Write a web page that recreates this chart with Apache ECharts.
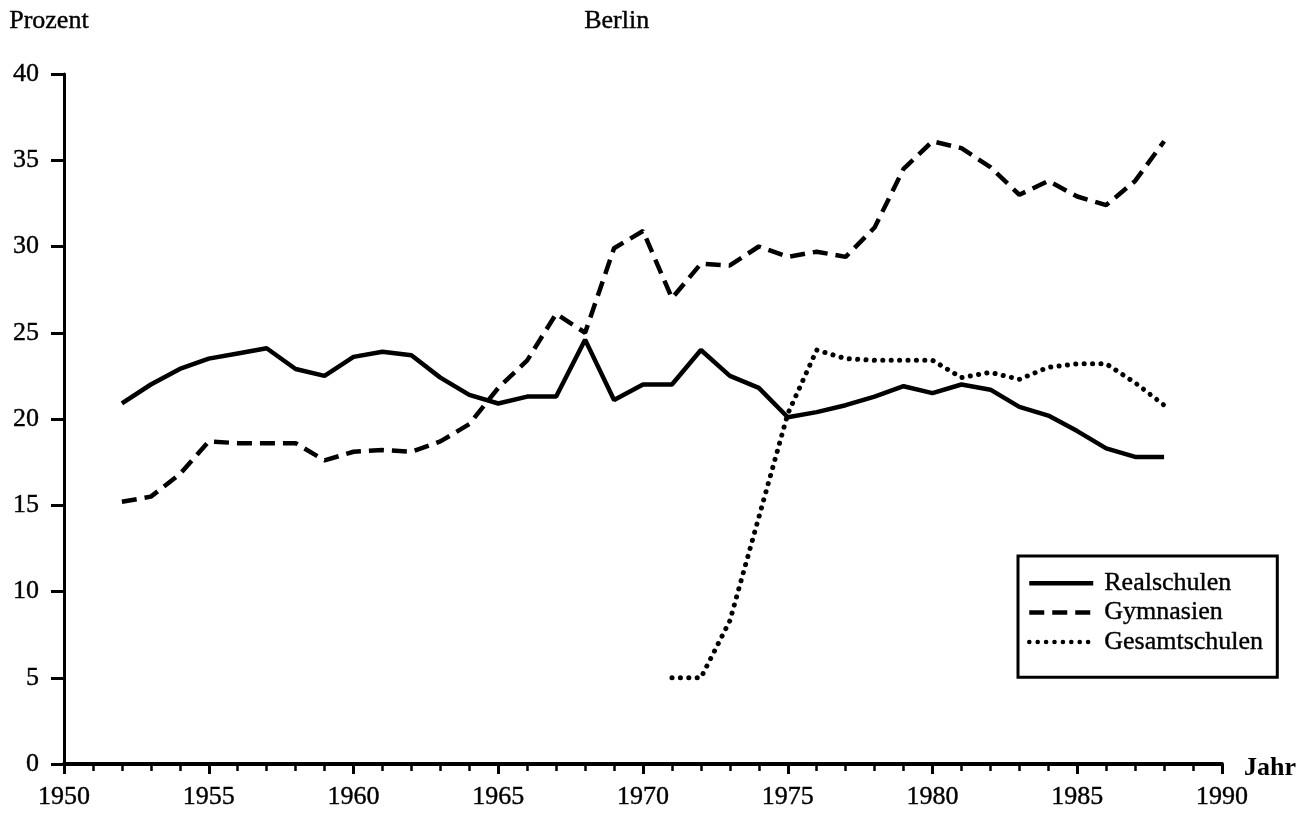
<!DOCTYPE html>
<html>
<head>
<meta charset="utf-8">
<script src="https://cdn.jsdelivr.net/npm/echarts@6/dist/echarts.min.js"></script>
<style>
  html, body { margin: 0; padding: 0; background: #fff; }
  #chart { width: 1301px; height: 813px; }
</style>
</head>
<body>
<div id="chart"></div>
<script>
// years 1952..1988
const years = [];
for (let y = 1952; y <= 1988; y++) years.push(y);

const realschulen = [20.9, 22.0, 22.9, 23.5, 23.8, 24.1, 22.9, 22.5, 23.6, 23.9,
  23.7, 22.4, 21.4, 20.9, 21.3, 21.3, 24.6, 21.1, 22.0, 22.0,
  24.0, 22.5, 21.8, 20.1, 20.4, 20.8, 21.3, 21.9, 21.5, 22.0,
  21.7, 20.7, 20.2, 19.3, 18.3, 17.8, 17.8];

const gymnasien = [15.2, 15.5, 16.8, 18.7, 18.6, 18.6, 18.6, 17.6, 18.1, 18.2,
  18.1, 18.7, 19.7, 21.8, 23.4, 26.1, 25.0, 29.9, 30.9, 27.0,
  29.0, 28.9, 30.0, 29.4, 29.7, 29.4, 31.1, 34.5, 36.1, 35.7,
  34.6, 33.0, 33.8, 32.9, 32.4, 33.8, 36.1];

// Gesamtschulen start in 1971
const gesamtYears = [];
for (let y = 1971; y <= 1988; y++) gesamtYears.push(y);
const gesamtschulen = [5.0, 5.0, 8.3, 14.3, 20.3, 24.0, 23.5, 23.4, 23.4, 23.4,
  22.4, 22.7, 22.3, 23.0, 23.2, 23.2, 22.1, 20.8];

const xTicks = [1950, 1955, 1960, 1965, 1970, 1975, 1980, 1985, 1990];
const yTicks = [0, 5, 10, 15, 20, 25, 30, 35, 40];

const FONT = '"Liberation Serif", "DejaVu Serif", serif';
const FS = 26;

const chart = echarts.init(document.getElementById('chart'));

const pairs = (xs, ys) => xs.map((x, i) => [x, ys[i]]);

const option = {
  backgroundColor: '#fff',
  animation: false,
  textStyle: { fontFamily: FONT, color: '#000' },
  grid: { left: 64, right: 79, top: 74, bottom: 49 },
  graphic: [
    {
      type: 'text', left: 9, top: 8,
      style: { text: 'Prozent', font: FS + 'px ' + FONT, fill: '#000', stroke: '#000', lineWidth: 0.4 }
    },
    {
      type: 'text', left: 584, top: 8,
      style: { text: 'Berlin', font: FS + 'px ' + FONT, fill: '#000', stroke: '#000', lineWidth: 0.4 }
    }
  ],
  legend: {
    orient: 'vertical',
    left: 1018,
    top: 556,
    width: 270,
    height: 120,
    padding: [14, 14, 22, 9],
    itemGap: 3,
    itemWidth: 64,
    itemHeight: 24,
    borderColor: '#000',
    borderWidth: 3,
    itemStyle: { opacity: 0 },
    lineStyle: { width: 4.5 },
    textStyle: {
      fontFamily: FONT, fontSize: FS, color: '#000', padding: [0, 0, 0, 6],
      textBorderColor: '#000', textBorderWidth: 0.4
    },
    data: ['Realschulen', 'Gymnasien', 'Gesamtschulen']
  },
  xAxis: {
    type: 'value',
    min: xTicks[0],
    max: xTicks[xTicks.length - 1],
    interval: 5,
    name: 'Jahr',
    nameLocation: 'end',
    nameGap: 22,
    nameTextStyle: {
      fontFamily: FONT, fontSize: FS, fontWeight: 'bold', color: '#000',
      verticalAlign: 'top', padding: [-9, 0, 0, 0]
    },
    axisLine: { onZero: false, lineStyle: { color: '#000', width: 4 } },
    axisTick: { show: true, inside: false, length: 10, lineStyle: { color: '#000', width: 3 } },
    minorTick: { show: true, splitNumber: 5, length: 7, lineStyle: { color: '#000', width: 2.5 } },
    splitLine: { show: false },
    axisLabel: {
      color: '#000', fontFamily: FONT, fontSize: FS, margin: 20,
      textBorderColor: '#000', textBorderWidth: 0.4,
      formatter: (v) => String(v)
    }
  },
  yAxis: {
    type: 'value',
    min: yTicks[0],
    max: yTicks[yTicks.length - 1],
    interval: 5,
    axisLine: { show: true, lineStyle: { color: '#000', width: 3 } },
    axisTick: { show: true, inside: false, length: 13, lineStyle: { color: '#000', width: 3 } },
    splitLine: { show: false },
    axisLabel: {
      color: '#000', fontFamily: FONT, fontSize: FS, margin: 25,
      textBorderColor: '#000', textBorderWidth: 0.4
    }
  },
  series: [
    {
      name: 'Realschulen',
      type: 'line',
      data: pairs(years, realschulen),
      showSymbol: false,
      symbol: 'none',
      lineStyle: { color: '#000', width: 4.5, type: 'solid' },
      itemStyle: { color: '#000' }
    },
    {
      name: 'Gymnasien',
      type: 'line',
      data: pairs(years, gymnasien),
      showSymbol: false,
      symbol: 'none',
      lineStyle: { color: '#000', width: 4.5, type: [15, 8] },
      itemStyle: { color: '#000' }
    },
    {
      name: 'Gesamtschulen',
      type: 'line',
      data: pairs(gesamtYears, gesamtschulen),
      showSymbol: false,
      symbol: 'none',
      lineStyle: { color: '#000', width: 5, type: [0.1, 8.3], cap: 'round' },
      itemStyle: { color: '#000' }
    }
  ]
};

chart.setOption(option);
</script>
</body>
</html>
